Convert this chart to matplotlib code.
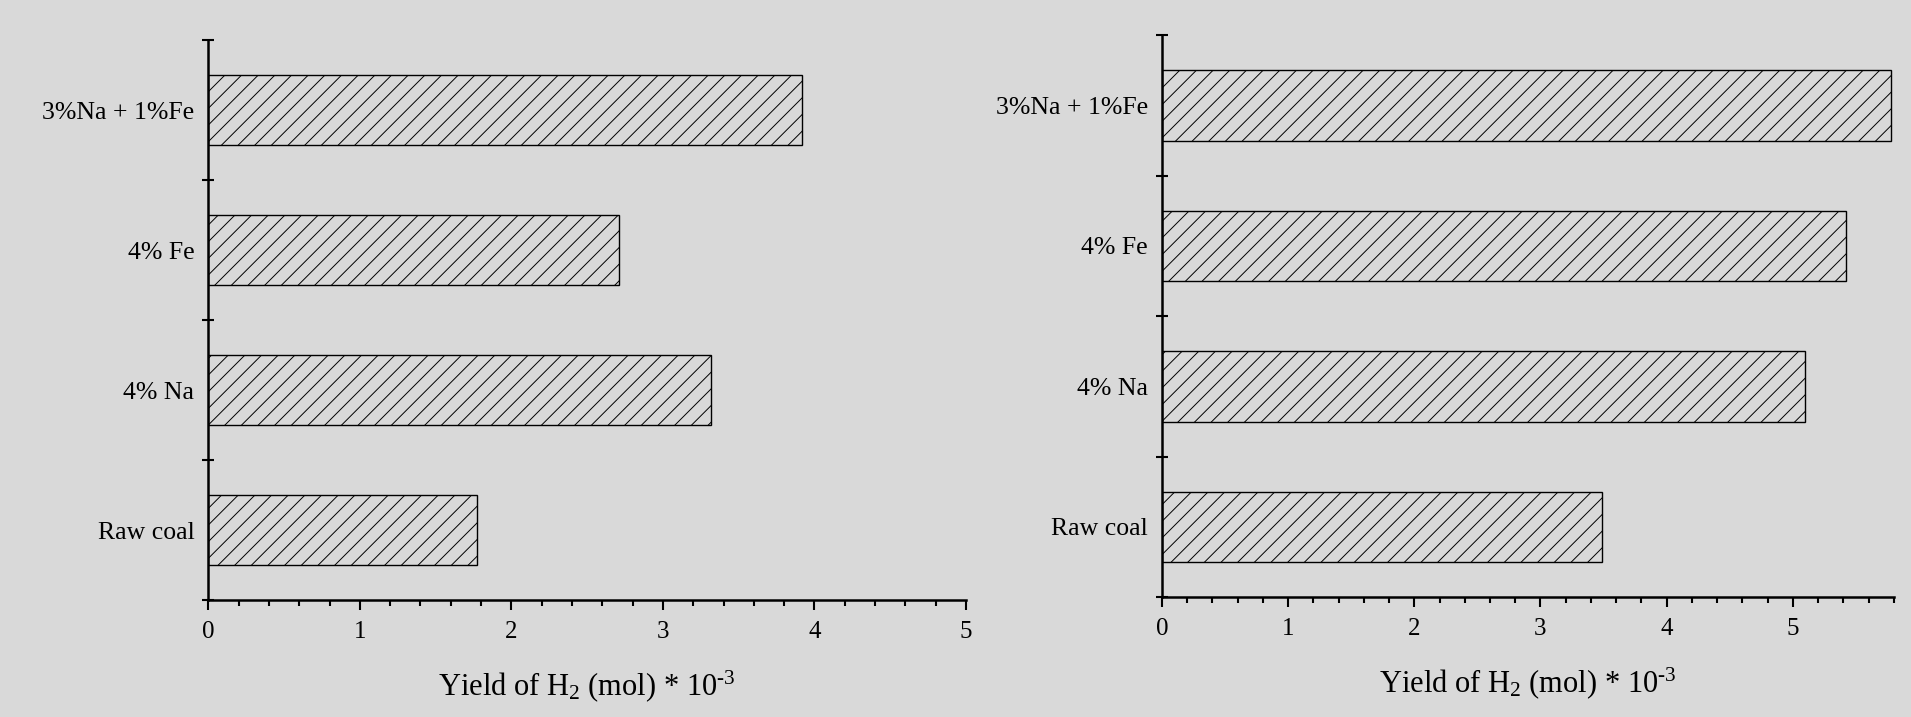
import matplotlib
matplotlib.use("Agg")
import matplotlib.pyplot as plt
from matplotlib.ticker import MultipleLocator, FixedLocator

# Data
categories = ["Raw coal", "4% Na", "4% Fe", "3%Na + 1%Fe"]
left_yield = [1.77, 3.32, 2.71, 3.92]
right_yield = [3.49, 5.10, 5.42, 5.78]
x_ticks_left = [0, 1, 2, 3, 4, 5]
x_ticks_right = [0, 1, 2, 3, 4, 5]

BG = "#d9d9d9"

plt.rcParams["font.family"] = ["Liberation Serif", "DejaVu Serif"]
plt.rcParams["mathtext.fontset"] = "custom"
plt.rcParams["mathtext.rm"] = "Liberation Serif"
plt.rcParams["mathtext.it"] = "Liberation Serif:italic"
plt.rcParams["hatch.linewidth"] = 0.7


def draw_panel(ax, values, xmax, xticks):
    y = list(range(len(categories)))
    ax.barh(y, values, height=0.5, color=BG, edgecolor="black",
            linewidth=1.0, hatch="//")
    ax.set_facecolor(BG)
    ax.set_xlim(0, xmax)
    ax.set_ylim(-0.5, len(categories) - 0.5)

    for side in ["top", "right"]:
        ax.spines[side].set_visible(False)
    ax.spines["left"].set_linewidth(1.8)
    ax.spines["bottom"].set_linewidth(1.8)

    ax.xaxis.set_major_locator(FixedLocator(xticks))
    ax.xaxis.set_minor_locator(MultipleLocator(0.2))
    ax.tick_params(axis="x", which="major", direction="out", length=7,
                   width=1.5, labelsize=18, pad=8)
    ax.tick_params(axis="x", which="minor", direction="out", length=4,
                   width=1.5)

    ax.set_yticks(y)
    ax.set_yticklabels(categories, fontsize=18.5)
    ax.yaxis.set_minor_locator(FixedLocator([i - 0.5 for i in range(len(categories) + 1)]))
    ax.tick_params(axis="y", which="major", length=0, pad=10)
    ax.tick_params(axis="y", which="minor", direction="inout", length=8,
                   width=1.5)

    ax.set_xlabel(r"Yield of H$_2$ (mol) * 10$^{\text{-3}}$", fontsize=22, labelpad=18)


fig = plt.figure(figsize=(19.11, 7.17), dpi=100, facecolor=BG)

ax1 = fig.add_axes([0.109, 0.163, 0.3965, 0.781])
draw_panel(ax1, left_yield, 5, x_ticks_left)

ax2 = fig.add_axes([0.608, 0.167, 0.383, 0.784])
draw_panel(ax2, right_yield, 5.8, x_ticks_right)

fig.savefig("out.png", dpi=100, facecolor=BG)
